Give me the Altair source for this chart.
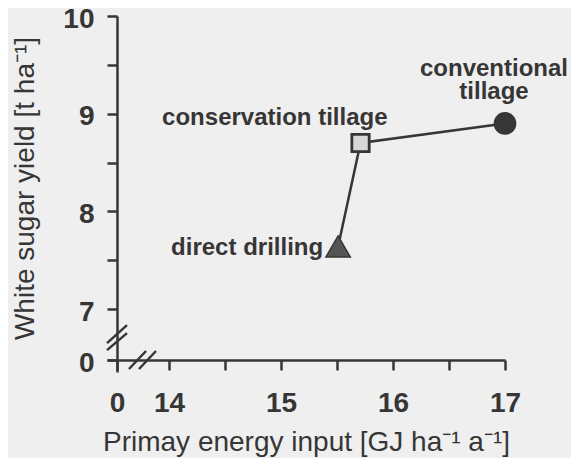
import altair as alt
import pandas as pd

# ---- data ----
practices = ["direct drilling", "conservation tillage", "conventional tillage"]
energy_input = [15.51, 15.71, 17.0]      # GJ ha-1 a-1
sugar_yield = [7.64, 8.70, 8.90]         # t ha-1

x_tick_values = [0, 14, 14.5, 15, 15.5, 16, 16.5, 17]
y_tick_values = [0, 7, 7.5, 8, 8.5, 9, 9.5, 10]

x_title = "Primay energy input [GJ ha⁻¹ a⁻¹]"
y_title = "White sugar yield [t ha⁻¹]"

df = pd.DataFrame({"practice": practices, "energy": energy_input, "yield": sugar_yield})

INK = "#363636"
BG = "#efefef"
FONT = "Liberation Sans"

# piecewise scales give the broken axes
xscale = alt.Scale(domain=[-1, 0, 14, 17], range=[0, 10, 62, 398], nice=False, zero=False)
yscale = alt.Scale(domain=[-1, 0, 7, 10], range=[356, 344, 293, 0], nice=False, zero=False)
label_expr = "datum.value % 1 === 0 ? '' + datum.value : ''"

xaxis = alt.Axis(values=x_tick_values, labelExpr=label_expr, title=x_title, offset=-12,
                 labelPadding=19, titlePadding=11, grid=False, labelFlush=False)
yaxis = alt.Axis(values=y_tick_values, labelExpr=label_expr, title=y_title, offset=-10,
                 labelPadding=13, titleX=-84, titleY=172, titleBaseline="alphabetic",
                 titleAngle=270, labelOffset=3, grid=False, labelFlush=False)

base = alt.Chart(df).encode(
    x=alt.X("energy:Q", scale=xscale, axis=xaxis),
    y=alt.Y("yield:Q", scale=yscale, axis=yaxis),
)

line = base.mark_line(color=INK, strokeWidth=2.5).encode(order=alt.Order("energy:Q"))

tri = base.transform_filter(alt.datum.practice == practices[0]).mark_point(
    shape="triangle-up", size=600, filled=True, fill="#555555", stroke=INK, strokeWidth=1.5, opacity=1)
sq = base.transform_filter(alt.datum.practice == practices[1]).mark_point(
    shape="square", size=300, filled=True, fill="#d8d8d8", stroke=INK, strokeWidth=2.8, opacity=1)
circ = base.transform_filter(alt.datum.practice == practices[2]).mark_point(
    shape="circle", size=515, filled=True, fill=INK, strokeWidth=0, opacity=1)

txt = dict(font=FONT, fontSize=24, fontWeight="bold", color=INK, baseline="alphabetic")
t_dd = base.transform_filter(alt.datum.practice == practices[0]).mark_text(
    align="right", dx=-15, dy=9, **txt).encode(text="practice:N")
t_ct = base.transform_filter(alt.datum.practice == practices[1]).mark_text(
    align="right", dx=27, dy=-18, **txt).encode(text="practice:N")
t_cv = base.transform_filter(alt.datum.practice == practices[2]).mark_text(
    align="center", dx=-11, dy=-47, lineBreak=" ", lineHeight=23, **txt).encode(text="practice:N")

one = pd.DataFrame({"k": [0]})


def slash(xd, yd, xo, x2o, yo, y2o):
    return alt.Chart(one).mark_rule(
        color=INK, strokeWidth=2.5, xOffset=xo, x2Offset=x2o, yOffset=yo, y2Offset=y2o
    ).encode(
        x=alt.X(datum=xd), x2=alt.X2(datum=xd),
        y=alt.Y(datum=yd), y2=alt.Y2(datum=yd),
    )


breaks = [
    slash(7, 0, -14, 3, 9, -9),
    slash(7, 0, -4, 13, 9, -9),
    slash(0, 3, -10, 10, 5, -13),
    slash(0, 3, -10, 10, 12, -5),
]

chart = alt.layer(line, tri, sq, circ, t_dd, t_ct, t_cv, *breaks).properties(
    width=398, height=356,
    autosize=alt.AutoSizeParams(type="none"),
    padding={"left": 99, "top": 8, "right": 66, "bottom": 86},
).configure(background=BG).configure_view(stroke=None).configure_axis(
    domainColor=INK, tickColor=INK, domainWidth=2.5, tickWidth=2.5, tickSize=10,
    labelColor=INK, titleColor=INK, labelFont=FONT, titleFont=FONT,
    labelFontSize=28, labelFontWeight="bold", titleFontSize=28, titleFontWeight="normal",
)

chart.save("out.html", embed_options={"renderer": "svg", "actions": False})
